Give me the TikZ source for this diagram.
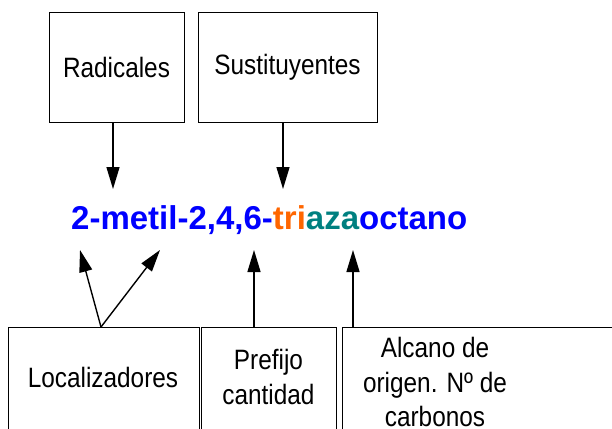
\documentclass[tikz,border=0pt]{standalone}
\usepackage{fontspec}
\setmainfont{Liberation Sans}
\newfontfamily\boxfont[FakeStretch=0.87]{Liberation Sans}
\usetikzlibrary{arrows.meta}
\definecolor{nblue}{RGB}{0,0,255}
\definecolor{norange}{RGB}{255,102,0}
\definecolor{nteal}{RGB}{0,128,128}
\begin{document}
\begin{tikzpicture}[x=1pt,y=-1pt,
  box/.style={draw=black,line width=1pt,inner sep=0pt},
  lbl/.style={inner sep=0pt,align=center,font=\boxfont\fontsize{28}{34.5}\selectfont},
  arr/.style={line width=1.4pt,-{Triangle[length=22pt,width=13pt]}}]
\useasboundingbox (0,0) rectangle (612,428);
\clip (0,0) rectangle (612,428);
% top boxes
\node[box,minimum width=135pt,minimum height=109pt] (rad) at (116.5,67.5) {};
\node[lbl] (radt) at (116.5,67.5) {Radicales};
\node[box,minimum width=179pt,minimum height=109pt] (sus) at (287.5,67.5) {};
\node[lbl] (sust) at (287.5,67.5) {Sustituyentes};
% title
\node[inner sep=0pt,anchor=base west,font=\fontsize{33}{40}\selectfont\bfseries] (name) at (71,229)
  {\textcolor{nblue}{2-metil-2,4,6-}\textcolor{norange}{tri}\textcolor{nteal}{aza}\textcolor{nblue}{octano}};
% bottom boxes
\node[box,minimum width=191pt,minimum height=120pt,anchor=north west] (loc) at (8,327) {};
\node[lbl] (loct) at (103,377) {Localizadores};
\node[box,minimum width=135pt,minimum height=120pt,anchor=north west] (pre) at (201,327) {};
\node[lbl] (pret) at (268.5,377) {Prefijo\\cantidad};
\node[box,minimum width=290pt,minimum height=120pt,anchor=north west] (alc) at (342,327) {};
\node[lbl] (alct) at (435,382) {Alcano de\\origen. Nº de\\carbonos};
% arrow ends
\coordinate (tR) at (113,189);
\coordinate (tS) at (283,189);
\coordinate (tL1) at (80,250);
\coordinate (tL2) at (160,250);
\coordinate (tP) at (254,250);
\coordinate (tA) at (353,250);
\coordinate (sL) at (101,327);
% arrows
\draw[arr] (rad.south -| tR) -- (tR);
\draw[arr] (sus.south -| tS) -- (tS);
\draw[arr] (sL) -- (tL1);
\draw[arr] (sL) -- (tL2);
\draw[arr] (pre.north -| tP) -- (tP);
\draw[arr] (alc.north -| tA) -- (tA);
\end{tikzpicture}
\end{document}
